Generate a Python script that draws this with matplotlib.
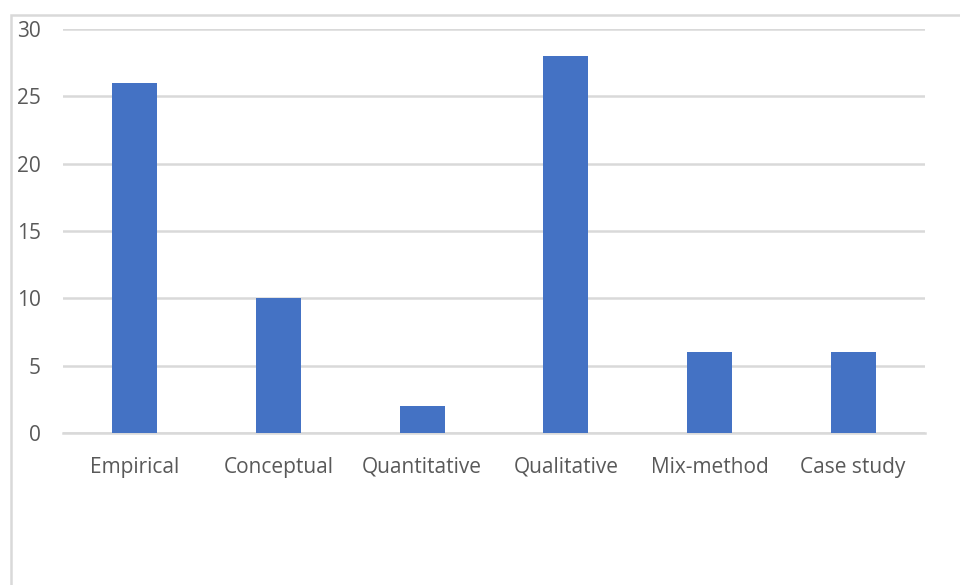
import matplotlib
matplotlib.use('Agg')
import matplotlib.pyplot as plt
from matplotlib.patches import Rectangle

categories = ['Empirical', 'Conceptual', 'Quantitative', 'Qualitative', 'Mix-method', 'Case study']
counts = [26, 10, 2, 28, 6, 6]
y_ticks = [0, 5, 10, 15, 20, 25, 30]

plt.rcParams['font.family'] = ['Open Sans', 'DejaVu Sans']

W, H = 960, 585
fig = plt.figure(figsize=(W / 100, H / 100), dpi=100)

# plot area in pixel terms
left, right, top, bottom = 63, 925, 29, 433
ax = fig.add_axes([left / W, 1 - bottom / H, (right - left) / W, (bottom - top) / H])

x = list(range(len(categories)))
ax.bar(x, counts, width=0.313, color='#4472C4', zorder=3)

ax.set_xlim(-0.5, len(categories) - 0.5)
ax.set_ylim(0, 30)
ax.set_yticks(y_ticks)
ax.set_xticks(x)
ax.set_xticklabels(categories)
ax.yaxis.grid(True, color='#D9D9D9', linewidth=1.8, zorder=0)
ax.set_axisbelow(True)
for side in ['top', 'right', 'left']:
    ax.spines[side].set_visible(False)
ax.spines['bottom'].set_color('#D9D9D9')
ax.spines['bottom'].set_linewidth(1.8)
ax.tick_params(axis='both', length=0, colors='#595959', labelsize=15)
ax.tick_params(axis='x', pad=17)
ax.tick_params(axis='y', pad=16)

# chart frame, cut off at the right and bottom
fig.patches.append(Rectangle((11 / W, -0.1), 1.2, 1 - 15 / H + 0.1,
                             transform=fig.transFigure, fill=False,
                             edgecolor='#D9D9D9', linewidth=1.8, zorder=0))

fig.savefig('out.png', dpi=100)
